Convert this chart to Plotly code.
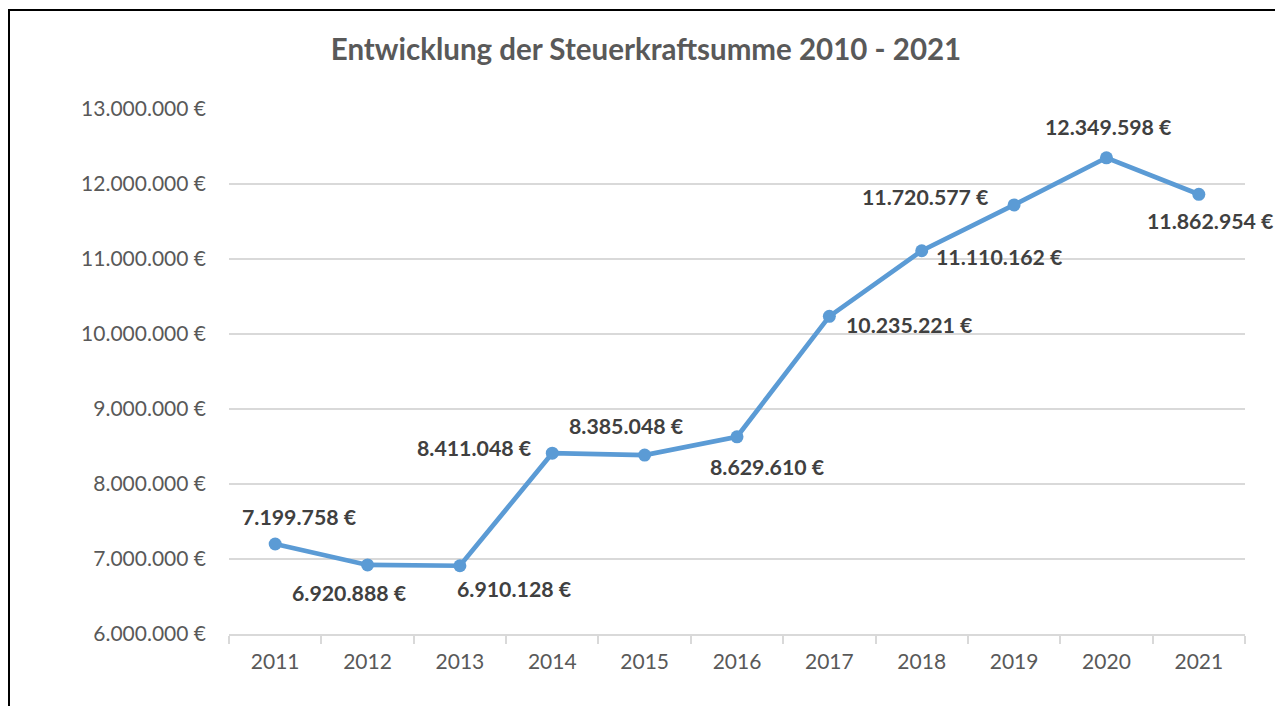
import plotly.graph_objects as go

years = ["2011", "2012", "2013", "2014", "2015", "2016", "2017", "2018", "2019", "2020", "2021"]
values = [7199758, 6920888, 6910128, 8411048, 8385048, 8629610, 10235221, 11110162, 11720577, 12349598, 11862954]
title_text = "Entwicklung der Steuerkraftsumme 2010 - 2021"

# label offsets (pixels, relative to the marker): dx right, dy down
label_dx = [24, -18, 55, -78, -18, 30, 80, 78, -89, 2, 12]
label_dy = [-27, 28, 23, -5, -29, 30, 9, 6, -8, -31, 27]

def de_fmt(v):
    return f"{v:,}".replace(",", ".") + " €"

W, H = 1283, 706
OFF = 8  # page body margin offset
ml, mt = 229 - OFF, 109 - OFF
pw, ph = 1016, 525
mr, mb = W - ml - pw, H - mt - ph

fig = go.Figure()
fig.add_trace(go.Scatter(
    x=years, y=values, mode="lines+markers",
    line=dict(color="#5B9BD5", width=4.7),
    marker=dict(color="#5B9BD5", size=13),
    hoverinfo="skip", showlegend=False,
))

annotations = []
for i, (v, dx, dy) in enumerate(zip(values, label_dx, label_dy)):
    annotations.append(dict(
        x=i, y=v, xref="x", yref="y", text="<b>" + de_fmt(v) + "</b>", showarrow=False,
        xshift=dx, yshift=-dy, xanchor="center", yanchor="middle",
        font=dict(family="Lato", size=21.3, color="#404040"),
    ))

def px_x(p):
    return (p - OFF - ml) / pw

def px_y(p):
    return (mt + ph - (p - OFF)) / ph

fig.update_layout(
    width=W, height=H,
    margin=dict(l=ml, r=mr, t=mt, b=mb, autoexpand=False),
    paper_bgcolor="white", plot_bgcolor="white",
    separators=",.",
    title=dict(text="<b>" + title_text + "</b>", x=(646 - OFF) / W, xanchor="center",
               y=1 - (50 - OFF) / H, yanchor="middle",
               font=dict(family="Lato", size=29.5, color="#595959")),
    xaxis=dict(
        type="category", categoryorder="array", categoryarray=years,
        range=[-0.5, len(years) - 0.5], autorange=False,
        showgrid=False, showline=True, linecolor="#D9D9D9", linewidth=1.5,
        ticks="outside", tickson="boundaries", ticklen=8, tickcolor="#D9D9D9", tickwidth=1.5,
        tickfont=dict(family="Lato", size=21, color="#595959"), tickangle=0,
        ticklabelstandoff=8, zeroline=False, automargin=False,
    ),
    yaxis=dict(
        range=[6000000, 13000000], autorange=False, dtick=1000000, tick0=6000000,
        showgrid=True, gridcolor="#D9D9D9", gridwidth=1.5,
        showline=False, ticks="", zeroline=False,
        tickformat=",d", ticksuffix=" €", automargin=False,
        tickfont=dict(family="Lato", size=21, color="#595959"),
        ticklabelstandoff=22,
    ),
    annotations=annotations,
    shapes=[dict(type="rect", xref="paper", yref="paper",
                 x0=px_x(9), x1=px_x(1330), y0=px_y(740), y1=px_y(10),
                 line=dict(color="black", width=2), fillcolor="rgba(0,0,0,0)", layer="below")],
)

fig.write_html("out.html")
